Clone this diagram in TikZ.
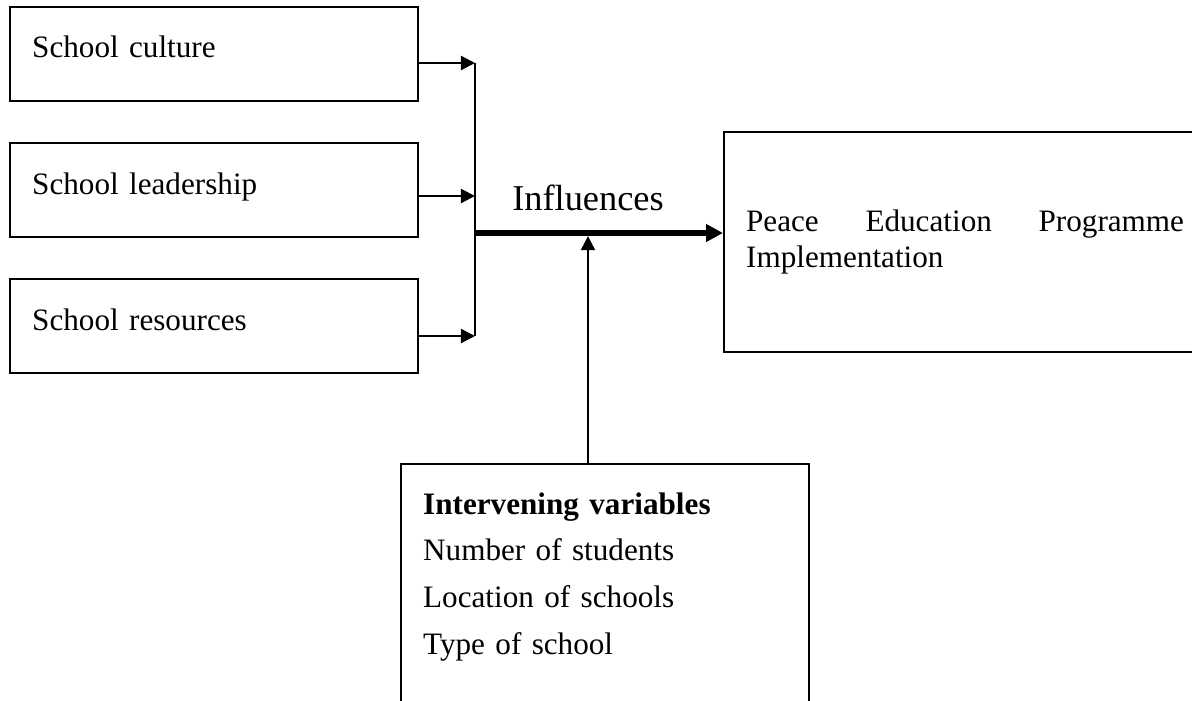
\documentclass[tikz,border=0pt]{standalone}
\usepackage{fontspec}
\setmainfont{Liberation Serif}
\usetikzlibrary{arrows.meta,positioning}

\begin{document}
\begin{tikzpicture}[x=0.385pt,y=-0.385pt,>={Triangle[length=5.4pt,width=5.4pt]},
                    shorten >=0pt,node distance=15.4pt,line width=0.8pt,
                    box/.style={draw,text width=140pt,inner xsep=8.5pt,inner ysep=0pt,
                                minimum height=36.2pt,align=left,
                                text height=0.8em,text depth=0.5em,
                                font={\fontsize{12}{14}\selectfont}}]
 \useasboundingbox (0,0) rectangle (1192,700);

 \node [box]      (culture) at (214,54) {School culture};
 \node [box]      (leadership) [below=of culture] {School leadership};
 \node [box]      (resources) [below=of leadership] {School resources};

 \coordinate (hubtop) at (475,63);
 \coordinate (hubmid) at (475,196);
 \coordinate (hubbot) at (475,336);
 \coordinate (hub) at (475,233);

 \node [font={\fontsize{14}{17}\selectfont}] (influences) at (588,198) {Influences};

 \node [draw,anchor=west,text width=168.6pt,inner xsep=8.5pt,inner ysep=0pt,
        minimum height=84.7pt,align=justify,
        font={\fontsize{12}{14}\selectfont\tolerance=10000\hyphenpenalty=10000}]
       (peace) at (723,242) {Peace Education Programme Implementation};

 \node [box,anchor=north,text height=19.3pt,text depth=80pt,
        font={\fontsize{12}{18}\selectfont}]
       (intervening) at (605,463) {\textbf{Intervening variables}\\
        Number of students\\
        Location of schools\\
        Type of school};

 \path [->] (culture.east |- hubtop) edge (hubtop)
            (leadership.east |- hubmid) edge (hubmid)
            (resources.east |- hubbot) edge (hubbot)
            (intervening.north -| influences) edge [shorten >=1.2pt] (hub -| influences);

 \draw (hubtop) -- (hubbot);
 \draw [->,line width=2.3pt,>={Triangle[length=6.5pt,width=6.5pt]}] (hub) -- (hub -| peace.west);
\end{tikzpicture}
\end{document}
